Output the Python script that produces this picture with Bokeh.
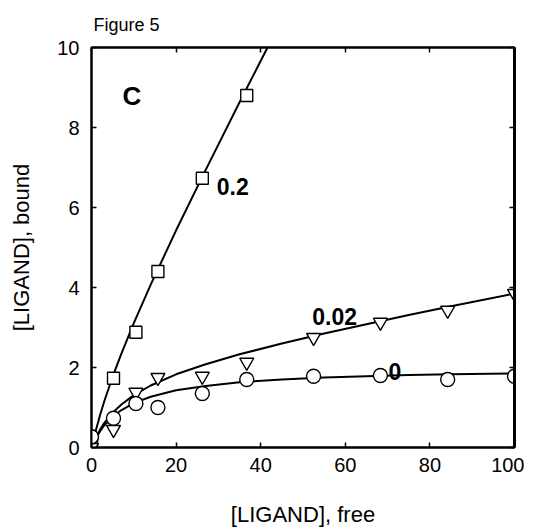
from bokeh.plotting import figure
from bokeh.models import Range1d, LinearAxis, FixedTicker, Label, Title, CustomJSTickFormatter
from bokeh.embed import file_html
from bokeh.resources import INLINE

# ---- data ----
x_pts = [0, 5.2, 10.5, 15.7, 26.2, 36.7, 52.5, 68.3, 84.2, 100]
bound_0 = [0.27, 0.73, 1.1, 1.0, 1.35, 1.7, 1.78, 1.8, 1.7, 1.78]
bound_002 = [0.0, 0.45, 1.38, 1.75, 1.78, 2.13, 2.75, 3.13, 3.43, 3.85]
x_sq = [0, 5.2, 10.5, 15.7, 26.2, 36.7]
bound_02 = [0.05, 1.73, 2.88, 4.4, 6.73, 8.8]

# fitted curves
x_fit = [0, 1, 2, 3, 5, 7, 10, 14, 20, 27, 35, 45, 55, 65, 75, 85, 100]
fit_0 = [0, 0.22, 0.40, 0.55, 0.77, 0.93, 1.11, 1.27, 1.43, 1.54, 1.63, 1.70, 1.75, 1.78, 1.81, 1.83, 1.85]
fit_002 = [0, 0.24, 0.44, 0.61, 0.87, 1.07, 1.31, 1.55, 1.83, 2.08, 2.33, 2.60, 2.85, 3.08, 3.31, 3.53, 3.85]
x_fit02 = [0, 1, 2, 3, 5, 7, 10, 14, 20, 27, 35, 42]
fit_02 = [0, 0.42, 0.80, 1.15, 1.77, 2.33, 3.11, 4.07, 5.43, 6.94, 8.63, 10.08]

x_ticks = [0, 20, 40, 60, 80, 100]
y_ticks = [0, 2, 4, 6, 8, 10]

FONT = "Liberation Sans"

p = figure(frame_width=423, frame_height=400,
           min_border_left=91, min_border_right=10,
           min_border_top=47, min_border_bottom=78,
           x_range=Range1d(0, 100), y_range=Range1d(0, 10),
           output_backend="svg", toolbar_location=None,
           x_axis_label="[LIGAND], free", y_axis_label="[LIGAND], bound")

p.title = Title(text="Figure 5", align="left", text_font=FONT, text_font_size="18px",
                text_font_style="normal", text_color="black", standoff=25, offset=2)

p.xgrid.visible = False
p.ygrid.visible = False
p.outline_line_color = "black"
p.outline_line_width = 2
p.background_fill_color = "white"
p.border_fill_color = "white"

for ax in (p.xaxis[0], p.yaxis[0]):
    ax.axis_line_width = 2
    ax.axis_line_color = "black"
    ax.major_tick_in = 5
    ax.major_tick_out = 0
    ax.major_tick_line_width = 1.5
    ax.minor_tick_line_color = None
    ax.major_label_text_font = FONT
    ax.major_label_text_font_size = "20px"
    ax.major_label_text_color = "black"
    ax.axis_label_text_font = FONT
    ax.axis_label_text_font_size = "22px"
    ax.axis_label_text_font_style = "normal"
    ax.axis_label_text_color = "black"

p.xaxis[0].ticker = FixedTicker(ticks=x_ticks)
p.yaxis[0].ticker = FixedTicker(ticks=y_ticks)
p.xaxis[0].major_label_standoff = 10
p.yaxis[0].major_label_standoff = 12
p.xaxis[0].axis_label_standoff = 27
p.yaxis[0].axis_label_standoff = 20

top = LinearAxis(ticker=FixedTicker(ticks=x_ticks), formatter=CustomJSTickFormatter(code="return ''"),
                 major_tick_in=5, major_tick_out=0, minor_tick_line_color=None,
                 axis_line_width=2, major_tick_line_width=1.5, major_label_standoff=0)
right = LinearAxis(ticker=FixedTicker(ticks=y_ticks), formatter=CustomJSTickFormatter(code="return ''"),
                   major_tick_in=5, major_tick_out=0, minor_tick_line_color=None,
                   axis_line_width=3, major_tick_line_width=1.5, major_label_standoff=0)
p.add_layout(top, "above")
p.add_layout(right, "right")

# curves
p.line(x_fit02, fit_02, line_color="black", line_width=2)
p.line(x_fit, fit_002, line_color="black", line_width=2)
p.line(x_fit, fit_0, line_color="black", line_width=2)

# points
p.scatter(x_sq, bound_02, marker="square", size=12, fill_color="white",
          line_color="black", line_width=1.4)
p.scatter(x_pts, bound_002, marker="inverted_triangle", size=14, fill_color="white",
          line_color="black", line_width=1.4)
p.scatter(x_pts, bound_0, marker="circle", size=14, fill_color="white",
          line_color="black", line_width=1.4)

def lab(x, y, t, size, bold=True):
    p.add_layout(Label(x=x, y=y, text=t, text_font=FONT, text_font_size=size,
                       text_font_style="bold" if bold else "normal",
                       text_color="black", text_align="left",
                       text_baseline="alphabetic"))

lab(7.3, 8.78, "C", "26px")
lab(29.6, 6.53, "0.2", "23px")
lab(52.2, 3.28, "0.02", "23px")
lab(70.2, 1.9, "0", "23px")

open("out.html", "w").write(file_html(p, INLINE))
